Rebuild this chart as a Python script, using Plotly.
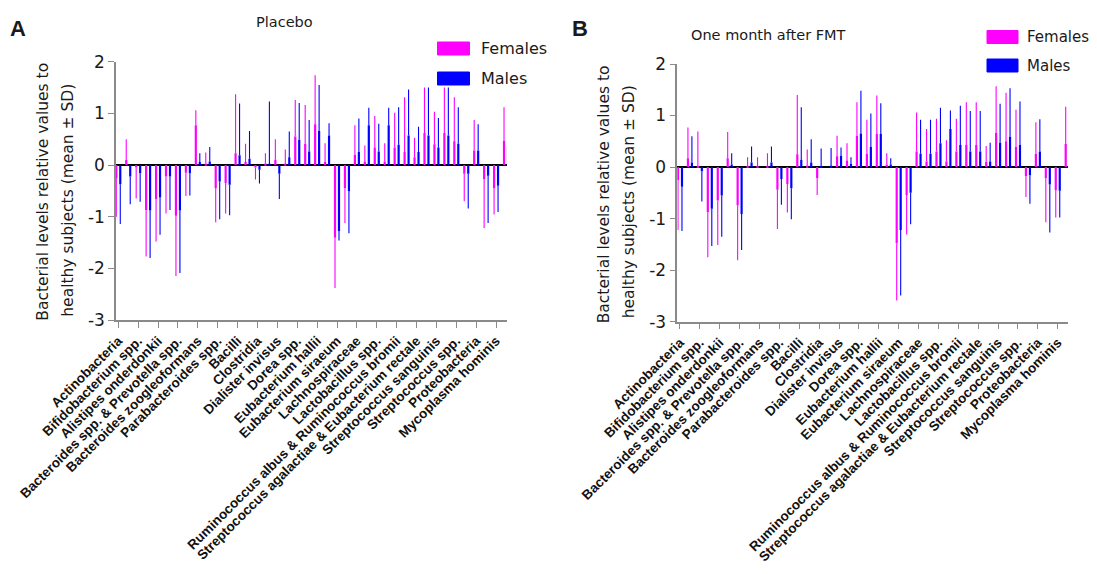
import plotly.graph_objects as go

# The page body has an 8px default margin, so the figure is 16px smaller
# than the window and all reference pixel positions are shifted by 8px.
OFF = 8
W, H = 1097 - 2 * OFF, 574 - 2 * OFF

# ---------------- data ----------------
tick_labels = [
    "Actinobacteria", "Bifidobacterium spp.", "Alistipes onderdonkii",
    "Bacteroides spp. & Prevotella spp.", "Bacteroides zoogleoformans",
    "Parabacteroides spp.", "Bacilli", "Clostridia", "Dialister invisus",
    "Dorea spp.", "Eubacterium hallii", "Eubacterium siraeum",
    "Lachnospiraceae", "Lactobacillus spp.",
    "Ruminococcus albus & Ruminococcus bromii",
    "Streptococcus agalactiae & Eubacterium rectale",
    "Streptococcus sanguinis", "Streptococcus spp.", "Proteobacteria",
    "Mycoplasma hominis",
]
probe_index = list(range(40))          # 40 probes, every second one labelled
tick_index = probe_index[::2]

# Placebo
placebo_f_mean = [-0.25, 0.10, -0.05, -0.87, -0.66, -0.22, -0.98, -0.15, 0.77, 0.03,
                  -0.45, -0.35, 0.23, 0.06, -0.05, 0.03, 0.10, 0.02, 0.55, 0.41,
                  0.79, 0.06, -1.41, -0.45, 0.20, 0.07, 0.34, 0.07, 0.34, 0.25,
                  0.15, 0.62, 0.40, 0.62, 0.46, -0.17, 0.28, -0.27, -0.45, 0.47]
placebo_f_sd = [0.75, 0.40, 0.60, 0.90, 0.82, 0.72, 1.17, 0.45, 0.29, 0.21,
                0.66, 0.59, 1.14, 0.35, 0.23, 0.20, 0.40, 0.28, 0.71, 0.75,
                0.95, 0.36, 0.97, 0.67, 0.57, 0.31, 0.61, 0.35, 0.67, 1.06,
                0.38, 0.88, 0.63, 0.88, 0.85, 0.53, 0.59, 0.95, 0.51, 0.65]
placebo_m_mean = [-0.37, -0.22, -0.16, -0.88, -0.63, -0.22, -0.88, -0.16, 0.06, 0.07,
                  -0.32, -0.38, 0.19, 0.12, -0.09, 0.02, -0.17, 0.15, 0.49, 0.26,
                  0.66, 0.57, -1.28, -0.51, 0.25, 0.77, 0.26, 0.77, 0.39, 0.57,
                  0.25, 0.57, 0.34, 0.57, 0.41, -0.17, 0.28, -0.21, -0.40, 0.36]
placebo_m_sd = [0.77, 0.54, 0.55, 0.92, 0.72, 0.65, 1.21, 0.43, 0.17, 0.28,
                0.73, 0.59, 1.00, 0.54, 0.27, 1.21, 0.49, 0.50, 0.71, 0.61,
                0.89, 0.24, 0.18, 0.81, 0.65, 0.34, 0.54, 0.34, 0.73, 0.89,
                0.49, 0.93, 0.57, 0.93, 0.71, 0.67, 0.51, 0.91, 0.51, 0.63]

# One month after FMT
fmt_f_mean = [-0.25, 0.17, 0.01, -0.87, -0.65, 0.17, -0.74, 0.02, 0.01, 0.02,
              -0.44, -0.33, 0.25, 0.03, -0.21, None, 0.21, 0.13, 0.61, 0.26,
              0.64, 0.05, -1.48, -0.54, 0.30, 0.11, 0.30, 0.11, 0.30, 0.43,
              0.43, 0.10, 0.66, 0.50, 0.39, -0.18, 0.26, -0.21, -0.45, 0.45]
fmt_f_sd = [0.97, 0.60, 0.68, 0.88, 0.86, 0.51, 1.07, 0.17, 0.18, 0.25,
            0.76, 0.55, 1.15, 0.31, 0.33, None, 0.40, 0.33, 0.65, 0.66,
            0.75, 0.22, 1.11, 0.77, 0.76, 0.63, 0.64, 0.41, 0.64, 0.83,
            0.83, 0.31, 0.91, 0.94, 0.72, 0.40, 0.61, 0.86, 0.53, 0.72]
fmt_m_mean = [-0.38, 0.09, -0.08, -0.81, -0.55, 0.05, -0.91, 0.09, None, 0.09,
              -0.23, -0.41, 0.14, 0.09, 0.02, 0.03, 0.22, 0.06, 0.65, 0.39,
              0.64, 0.05, -1.22, -0.50, 0.26, 0.26, 0.46, 0.74, 0.43, 0.30,
              0.30, 0.11, 0.47, 0.59, 0.43, -0.16, 0.30, -0.34, -0.46, 0.64]
fmt_m_sd = [0.86, 0.51, 0.59, 0.72, 0.80, 0.22, 0.70, 0.31, None, 0.31,
            0.50, 0.60, 1.02, 0.45, 0.34, 0.34, 0.16, 0.13, 0.83, 0.65,
            0.60, 0.12, 1.27, 0.61, 0.66, 0.66, 0.69, 0.36, 0.76, 0.79,
            0.79, 0.36, 0.76, 0.94, 0.84, 0.55, 0.63, 0.93, 0.52, 0.82]

y_ticks = [2, 1, 0, -1, -2, -3]
y_tick_text = ["2", "1", "0", "-1", "-2", "-3"]

FEM = "#ff00ff"
MAL = "#0000ff"


def PX(x):
    return (x - OFF) / W


def PY(y):
    return 1 - (y - OFF) / H


def one_sided(mean, sd):
    plus, minus = [], []
    for m, s in zip(mean, sd):
        if m is None:
            plus.append(None); minus.append(None)
        elif m >= 0:
            plus.append(s); minus.append(0)
        else:
            plus.append(0); minus.append(s)
    return plus, minus


fig = go.Figure()


def add_bars(mean, sd, color, xa, ya):
    p, m = one_sided(mean, sd)
    fig.add_trace(go.Bar(
        x=probe_index, y=mean, marker=dict(color=color, line=dict(width=0)),
        error_y=dict(type="data", symmetric=False, array=p, arrayminus=m,
                     color=color, thickness=1.1, width=0),
        xaxis=xa, yaxis=ya, showlegend=False))


add_bars(placebo_f_mean, placebo_f_sd, FEM, "x", "y")
add_bars(placebo_m_mean, placebo_m_sd, MAL, "x", "y")
add_bars(fmt_f_mean, fmt_f_sd, FEM, "x2", "y2")
add_bars(fmt_m_mean, fmt_m_sd, MAL, "x2", "y2")

AX_GREY = "#8a8a8a"
xcommon = dict(tickvals=tick_index, ticktext=tick_labels, tickangle=-45,
               tickfont=dict(family="Liberation Sans, Arial", size=13.5,
                             color="#111111", weight="bold"),
               showline=True, linecolor=AX_GREY, linewidth=1.5,
               ticks="outside", ticklen=6, tickcolor=AX_GREY, tickwidth=1.3,
               showgrid=False, zeroline=False, automargin=False)
ycommon = dict(range=[-3, 2], tickvals=y_ticks, ticktext=y_tick_text,
               tickfont=dict(family="DejaVu Sans", size=17, color="#1a1a1a"),
               showline=True, linecolor=AX_GREY, linewidth=1.5,
               ticks="outside", ticklen=6, tickcolor=AX_GREY, tickwidth=1.3,
               showgrid=False, zeroline=True, zerolinecolor="black",
               zerolinewidth=2, automargin=False)

fig.update_layout(
    width=W, height=H, margin=dict(l=0, r=0, t=0, b=0),
    paper_bgcolor="white", plot_bgcolor="white",
    barmode="group", bargap=0.2, bargroupgap=0.45,
    xaxis=dict(domain=[PX(116), PX(507)], range=[-0.23, 39.1], anchor="y", **xcommon),
    yaxis=dict(domain=[PY(320), PY(61.7)], anchor="x", **ycommon),
    xaxis2=dict(domain=[PX(677.3), PX(1067.7)], range=[-0.27, 39.0], anchor="y2", **xcommon),
    yaxis2=dict(domain=[PY(321.7), PY(64)], anchor="x2", **ycommon),
)


def px_ann(text, x, y, size, angle=0, bold=False, family="DejaVu Sans", xanchor="center"):
    fig.add_annotation(text=text, x=PX(x), y=PY(y), xref="paper", yref="paper",
                       showarrow=False, textangle=angle, xanchor=xanchor, yanchor="middle",
                       font=dict(family=family, size=size, color="#1a1a1a",
                                 weight="bold" if bold else "normal"))


# panel letters and titles
px_ann("A", 18, 28, 22, bold=True, family="Liberation Sans, Arial")
px_ann("B", 580, 28, 22, bold=True, family="Liberation Sans, Arial")
px_ann("Placebo", 284, 22, 14.5)
px_ann("One month after FMT", 768, 35, 14.5)

# y-axis titles
for left, top in [(116, 61.7), (677.3, 64)]:
    px_ann("Bacterial levels relative values to", left - 73, top + 130, 15.5, angle=-90)
    px_ann("healthy subjects (mean ± SD)", left - 48, top + 138, 15.5, angle=-90)

# legends: (female box, male box, text gap, font size)
legend_spec = [((437.5, 42, 469.5, 55), (437.5, 72, 469.5, 85), 9, 16),
               ((987, 30.5, 1018, 43.5), (987, 59, 1018, 72), 7, 15)]
for (fb, mb, gap, fs) in legend_spec:
    for box, col, name in [(fb, FEM, "Females"), (mb, MAL, "Males")]:
        x0, y0, x1, y1 = box
        fig.add_shape(type="rect", xref="paper", yref="paper",
                      x0=PX(x0), x1=PX(x1), y0=PY(y1), y1=PY(y0),
                      fillcolor=col, line=dict(color=col, width=1))
        px_ann(name, x1 + gap, (y0 + y1) / 2, fs, xanchor="left")

fig.write_html("out.html")
